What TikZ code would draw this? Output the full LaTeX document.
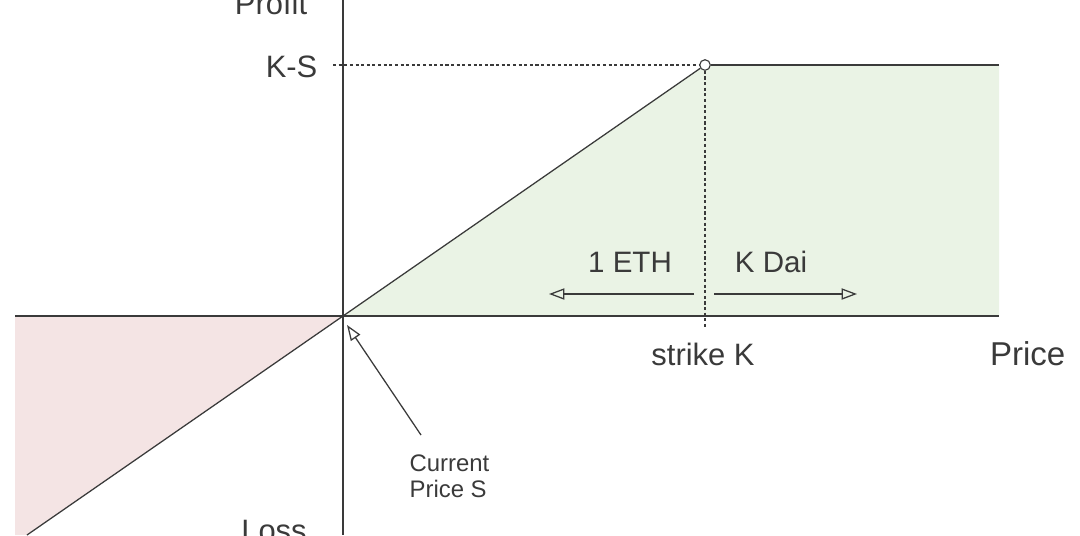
\documentclass[tikz,border=0pt]{standalone}
\usepackage{fontspec}
\setmainfont{Liberation Sans}
\usetikzlibrary{arrows.meta}
\definecolor{gaingreen}{HTML}{EAF3E5}
\definecolor{lossred}{HTML}{F4E4E4}
\definecolor{inkgray}{HTML}{3A3A3A}

\begin{document}
\begin{tikzpicture}[x=0.025cm, y=-0.025cm, line width=0.9pt, color=inkgray,
            lbl/.style = {font=\fontsize{22}{24}\selectfont, inner sep=0pt},
            note/.style = {font=\fontsize{17}{18.5}\selectfont, align=left, inner sep=0pt},
            tip/.style = {-{Triangle[open, length=11pt, width=8pt]}}]
                \useasboundingbox (0,0) rectangle (1080,535);

                % axes and corners
                \coordinate (o) at (343,316);
                \coordinate (xl) at (15,316);
                \coordinate (xr) at (999,316);
                \coordinate (yt) at (343,0);
                \coordinate (yb) at (343,535);
                \coordinate (low) at (27,535);
                \coordinate (top) at (999,65);
                \coordinate (ks) at (333,65);
                \coordinate (kt) at (705,328);

                % shaded regions
                \fill[gaingreen] (o) -- (705,65) -- (top) -- (xr) -- cycle;
                \fill[lossred] (xl) -- (o) -- (low) -- (15,535) -- cycle;

                \node[circle, draw, fill=white, line width=0.8pt, minimum size=7.5pt, inner sep=0pt] (kink) at (705,65) {};

                \draw (xl) -- (xr);
                \draw (yt) -- (yb);
                \draw (low) -- (o);
                \draw (o) -- (kink);
                \draw (kink) -- (top);
                \draw[dash pattern=on 2.2pt off 1.8pt, line width=0.8pt] (ks) -- (kink);
                \draw[dash pattern=on 2.2pt off 1.8pt, line width=0.8pt] (kink) -- (kt);

                % labels
                \node[lbl, anchor=base] (profit) at (271,14) {Profit};
                \node[lbl, anchor=base] (loss) at (274,541) {Loss};
                \node[lbl, anchor=base east] (kslbl) at (318,77) {K-S};
                \node[lbl, anchor=base] (strike) at (703,365) {strike K};
                \node[lbl, font=\fontsize{23.5}{25}\selectfont, anchor=base east] (price) at (1066,365) {Price};
                \node[lbl, font=\fontsize{21}{23}\selectfont, anchor=base] (eth) at (630,272) {1 ETH};
                \node[lbl, font=\fontsize{21}{23}\selectfont, anchor=base] (dai) at (771,272) {K Dai};

                % settlement arrows
                \coordinate (a1) at (694,294);
                \coordinate (a2) at (549,294);
                \coordinate (b1) at (714,294);
                \coordinate (b2) at (857,294);
                \draw[tip] (a1) -- (a2);
                \draw[tip] (b1) -- (b2);

                % current price
                \node[note, anchor=north west] (spot) at (409,454) {Current\\Price S};
                \coordinate (sp) at (421,435);
                \coordinate (sq) at (347,325);
                \draw[tip] (sp) -- (sq);
        \end{tikzpicture}
\end{document}
